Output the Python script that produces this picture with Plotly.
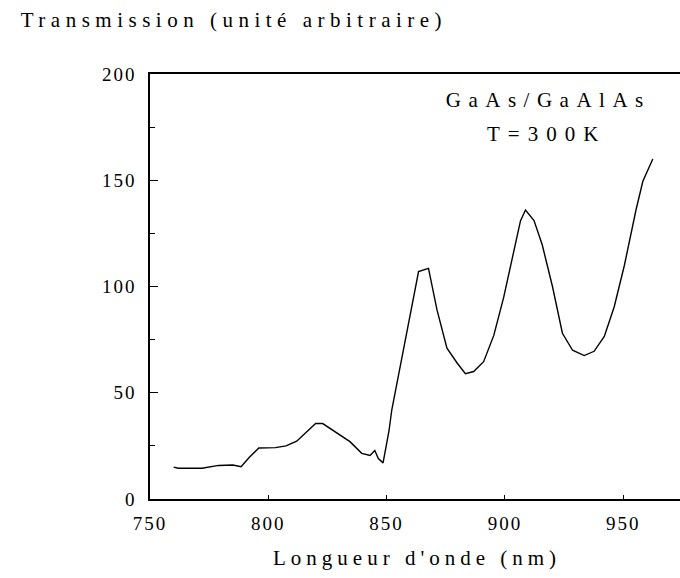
import plotly.graph_objects as go

# Transmission spectrum of a GaAs/GaAlAs structure at room temperature
wavelength_nm = [760, 762, 772, 779, 785, 788.5, 792, 796, 803, 807.5, 812, 817,
                 820, 823, 829, 834.5, 839.5, 843, 845, 846.5, 848.5, 851,
                 852.2, 853.6, 855.7, 857.8, 860, 863.5, 867.7, 871.3, 875.5,
                 879.8, 883.3, 886.8, 891, 895.3, 899.5, 903.8, 906.6, 908.7,
                 912.3, 915.8, 920.1, 924.3, 928.6, 933.5, 937.7, 942, 946.2,
                 950.5, 955.4, 958.3, 962.5]
transmission = [15, 14.5, 14.5, 15.8, 16, 15.2, 19.6, 24, 24.2, 25, 27.2, 32.5,
                35.5, 35.5, 31, 27, 21.5, 20.5, 22.8, 19, 17, 32,
                42, 50, 62, 74, 88, 107, 108.5, 89, 71, 64, 59, 60, 64.6, 77,
                95, 117, 131, 136, 131, 119.5, 100, 78, 70, 67.5, 69.5, 76.5,
                90.5, 110, 136, 149.5, 160]

x_ticks = [750, 800, 850, 900, 950]
y_ticks = [0, 50, 100, 150, 200]

title_y = "Transmission (unité arbitraire)"
title_x = "Longueur d'onde (nm)"
sample_lines = ["GaAs/GaAlAs", "T=300K"]

W, H = 680, 578
L, R, T, B = 150, 0, 74, 79
pw, ph = W - L - R, H - T - B

def px(x):
    return (x - L) / pw

def py(y):
    return (H - B - y) / ph

serif = "Liberation Serif"

fig = go.Figure()
fig.add_trace(go.Scatter(x=wavelength_nm, y=transmission, mode="lines",
                         line=dict(color="black", width=1.4), hoverinfo="skip",
                         showlegend=False))

axis_common = dict(showgrid=False, zeroline=False, showline=True,
                   linecolor="black", linewidth=1.5, ticks="inside",
                   tickcolor="black", tickwidth=1.3,
                   tickfont=dict(family=serif, size=19, color="black"))

fig.update_xaxes(range=[750, 974], tickvals=x_ticks,
                 ticktext=[str(v) for v in x_ticks], ticklen=4, mirror=True,
                 ticklabelstandoff=6, **axis_common)
fig.update_yaxes(range=[0, 200], tickvals=y_ticks,
                 ticktext=[str(v) for v in y_ticks], ticklen=8,
                 minor=dict(dtick=25, ticks="inside", ticklen=5,
                            tickcolor="black", tickwidth=1.2),
                 ticklabelstandoff=8, **axis_common)

annotations = [
    dict(text=title_y, x=px(234), y=py(20), xanchor="center", yanchor="middle",
         font=dict(family=serif, size=21, color="black")),
    dict(text=title_x, x=px(417), y=py(558), xanchor="center", yanchor="middle",
         font=dict(family=serif, size=21, color="black")),
    dict(text=sample_lines[0], x=px(548), y=py(100), xanchor="center",
         yanchor="middle", font=dict(family=serif, size=21, color="black")),
    dict(text=sample_lines[1], x=px(546), y=py(134), xanchor="center",
         yanchor="middle", font=dict(family=serif, size=21, color="black")),
]
for a in annotations:
    a.update(xref="paper", yref="paper", showarrow=False)

fig.update_layout(width=W, height=H, margin=dict(l=L, r=R, t=T, b=B),
                  paper_bgcolor="white", plot_bgcolor="white",
                  annotations=annotations)

# Wide letter spacing of the typeset labels
spacing_js = """
var sp = {"%s": "5.5px", "%s": "5px", "%s": "7.5px", "%s": "8px"};
document.querySelectorAll('.annotation-text').forEach(function(t){
  var s = sp[t.textContent];
  if (s) { t.style.letterSpacing = s; }
});
document.querySelectorAll('.xtick text, .ytick text').forEach(function(t){
  t.style.letterSpacing = '2px';
});
""" % (title_y, title_x, sample_lines[0], sample_lines[1])

fig.write_html("out.html", post_script=spacing_js)
